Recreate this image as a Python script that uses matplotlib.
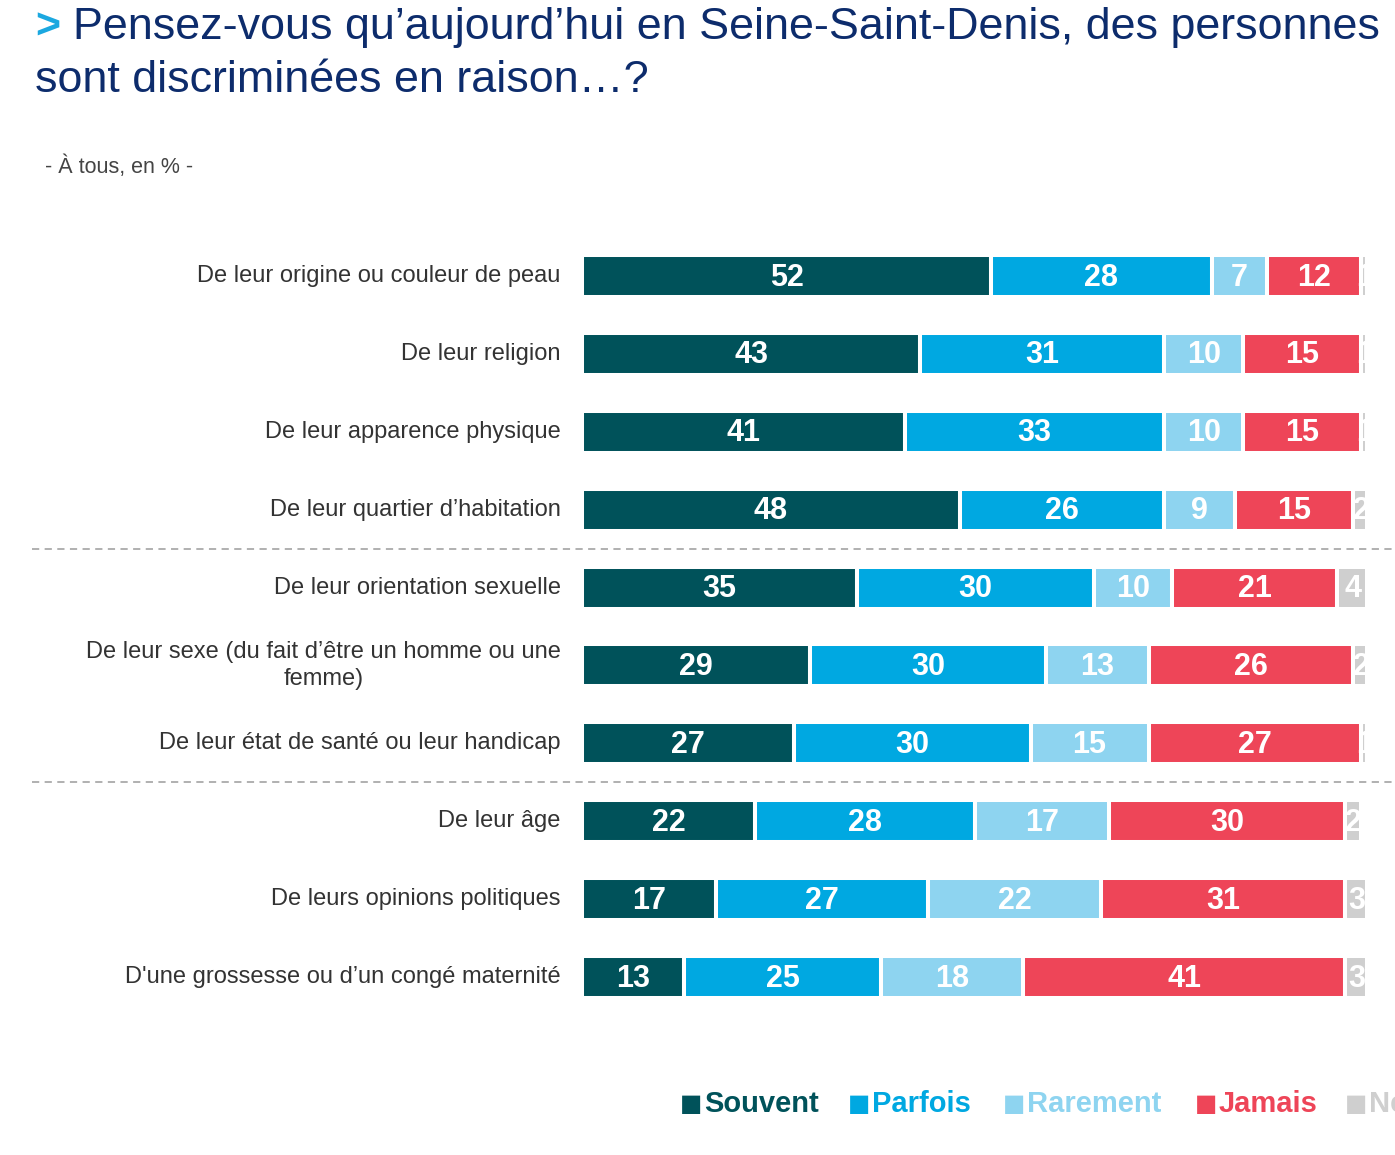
import numpy as np
import matplotlib; matplotlib.use('Agg')
import matplotlib.pyplot as plt

plt.rcParams['font.family'] = ['Liberation Sans', 'DejaVu Sans']

# données
categories = ["De leur origine ou couleur de peau", "De leur religion", "De leur apparence physique",
              "De leur quartier d’habitation", "De leur orientation sexuelle",
              "De leur sexe (du fait d’être un homme ou une\nfemme)", "De leur état de santé ou leur handicap",
              "De leur âge", "De leurs opinions politiques", "D'une grossesse ou d’un congé maternité"]
souvent = [52, 43, 41, 48, 35, 29, 27, 22, 17, 13]
parfois = [28, 31, 33, 26, 30, 30, 30, 28, 27, 25]
rarement = [7, 10, 10, 9, 10, 13, 15, 17, 22, 18]
jamais = [12, 15, 15, 15, 21, 26, 27, 30, 31, 41]
nsp = [1, 1, 1, 2, 4, 2, 1, 2, 3, 3]
series = ["Souvent", "Parfois", "Rarement", "Jamais", "Ne sait pas"]
colors = ['#00525A', '#00A8E1', '#8ED4F0', '#EE4558', '#CFCFCF']
separators = [3.5, 6.5]

W, H = 1395, 1155
fig = plt.figure(figsize=(W/100, H/100), dpi=100)
ax = fig.add_axes([582/W, 1-1016/H, (1365-582)/W, 779/H])

y = np.arange(len(categories))
left = np.zeros(len(categories))
for vals, c in zip([souvent, parfois, rarement, jamais, nsp], colors):
    vals = np.array(vals)
    ax.barh(y, vals, left=left, height=0.54, color=c, edgecolor='white', linewidth=2.9)
    for yi, l, v in zip(y, left, vals):
        ax.text(l + v/2, yi + 0.02, str(v), ha='center', va='center', color='white',
                fontsize=22, fontweight='bold', clip_on=True)
    left += vals

ax.set_xlim(0, 99.5)
ax.set_ylim(len(categories)-0.5, -0.5)
ax.axis('off')

for yi, lab in zip(y, categories):
    ax.text(-2.7, yi, lab, ha='right', va='center', fontsize=17, color='#333333',
            multialignment='center', linespacing=1.25)

for s in separators:
    ax.axhline(s, xmin=-0.703, xmax=1.05, color='#AAAAAA', lw=1.3, ls=(0, (4, 3)), clip_on=False)

# titre
fig.text(35/W, 1-28/H, ">", fontsize=31, color='#1BA8E0', fontweight='bold', va='center')
fig.text(73/W, 1-28/H, "Pensez-vous qu’aujourd’hui en Seine-Saint-Denis, des personnes",
         fontsize=32.3, color='#0D2C6C', va='center')
fig.text(35/W, 1-80/H, "sont discriminées en raison…?", fontsize=32.3, color='#0D2C6C', va='center')
fig.text(45/W, 1-167/H, "- À tous, en % -", fontsize=15.5, color='#444444', va='center')

# légende
leg_x = [680, 848, 1003, 1195, 1345]
for x, name, c in zip(leg_x, series, colors):
    fig.text(x/W, 1-1104/H, "■", fontsize=17, color=c, va='center', family=['DejaVu Sans'])
    fig.text((x+24)/W, 1-1104/H, name, fontsize=21, color=c, fontweight='bold', va='center')

plt.savefig("out.png", dpi=100)
